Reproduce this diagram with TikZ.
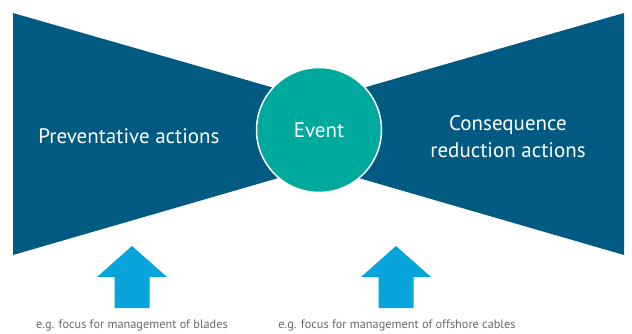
\documentclass[tikz,border=0pt]{standalone}
\usepackage{fontspec}
\setmainfont{PT Sans}
\definecolor{bowblue}{RGB}{0,90,130}
\definecolor{eventteal}{RGB}{0,169,157}
\definecolor{pushblue}{RGB}{8,164,220}
\definecolor{notegray}{RGB}{105,105,105}
\begin{document}
\begin{tikzpicture}[x=1pt,y=-1pt,
                wing/.style={fill=bowblue},
                main/.style={draw=white,circle,line width=1.5pt,fill=eventteal,minimum size=125pt,text=white,font=\fontsize{21}{24}\selectfont},
                side/.style={text=white,align=center,font=\fontsize{21}{27}\selectfont},
                note/.style={text=notegray,font=\fontsize{12.3}{14}\selectfont},
                push/.style={fill=pushblue}]
                \useasboundingbox (0,0) rectangle (632,334);
                \fill[wing] (13,13) -- (13,255) -- (330,163) -- (330,104) -- cycle;
                \fill[wing] (624,13) -- (624,255) -- (307,163) -- (307,104) -- cycle;
                \node[main](event) at (319,130){Event};
                \node[side](prev) at (129,136){Preventative actions};
                \node[side](cons) at (508,137){Consequence\\reduction actions};
                \node[note](blades) at (132,325){e.g. focus for management of blades};
                \node[note](cables) at (397,325){e.g. focus for management of offshore cables};
                \foreach \c in {132,396}
                    \fill[push] (\c,246) -- (\c+35,277) -- (\c+17.5,277) -- (\c+17.5,308) -- (\c-17.5,308) -- (\c-17.5,277) -- (\c-35,277) -- cycle;
            \end{tikzpicture}
\end{document}
